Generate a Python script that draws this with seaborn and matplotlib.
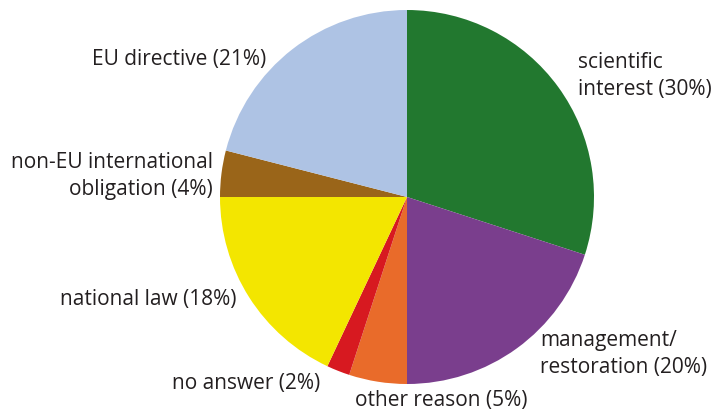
import matplotlib
matplotlib.use("Agg")
import matplotlib.pyplot as plt
import seaborn as sns

categories = ["scientific interest", "management/restoration", "other reason", "no answer",
              "national law", "non-EU international obligation", "EU directive"]
values = [30, 20, 5, 2, 18, 4, 21]
label_texts = ["scientific\ninterest (30%)", "management/\nrestoration (20%)", "other reason (5%)",
               "no answer (2%)", "national law (18%)", "non-EU international\nobligation (4%)",
               "EU directive (21%)"]
colors = ["#22782f", "#7a3e8d", "#e96b2a", "#d71920", "#f3e600", "#9a6519", "#aec3e4"]

sns.set_theme(style="white")
plt.rcParams['font.family'] = ['Open Sans', 'DejaVu Sans']

W, H = 713, 414
fig = plt.figure(figsize=(W / 100, H / 100), dpi=100)
cx, cy, r = 407, 198, 187
ax = fig.add_axes([(cx - r) / W, (H - cy - r) / H, 2 * r / W, 2 * r / H])
ax.pie(values, colors=colors, startangle=90, counterclock=False,
       wedgeprops=dict(linewidth=0))
ax.set_xlim(-1, 1)
ax.set_ylim(-1, 1)
ax.set_aspect("equal")
ax.axis("off")

# label positions in pixels (x, y, ha, multialign)
pos = [(578, 76, "left", "left"), (540, 354, "left", "left"), (355, 401, "left", "left"),
       (320, 384, "right", "left"), (237, 300, "right", "left"), (213, 176, "right", "right"),
       (266, 60, "right", "left")]
for txt, (x, y, ha, ma) in zip(label_texts, pos):
    fig.text(x / W, 1 - y / H, txt, ha=ha, va="center", fontsize=15,
             color="#231f20", linespacing=1.35, multialignment=ma)

fig.savefig("out.png", dpi=100)
